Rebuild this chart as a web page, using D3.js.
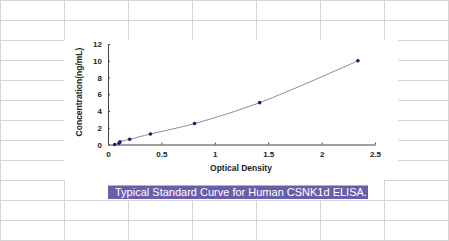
<!DOCTYPE html>
<html><head><meta charset="utf-8">
<script src="https://cdn.jsdelivr.net/npm/d3@7"></script>
<style>html,body{margin:0;padding:0;background:#fff;}svg{display:block;}</style>
</head><body>
<svg id="c" width="449" height="241"></svg>
<script>
const odValues = [0.063, 0.103, 0.112, 0.203, 0.397, 0.81, 1.42, 2.34];
const concValues = [0, 0.156, 0.312, 0.625, 1.25, 2.5, 5, 10];
const xTicks = [0, 0.5, 1, 1.5, 2, 2.5];
const yTicks = [0, 2, 4, 6, 8, 10, 12];
const xTitle = "Optical Density";
const yTitle = "Concentration(ng/mL)";
const caption = "Typical Standard Curve for Human CSNK1d ELISA.";

const svg = d3.select("#c");
const W = 449, H = 241;
const gridColor = "#d6d6d6";

// spreadsheet background grid
const g0 = svg.append("g");
const vx = [0.5, 64.5, 128.5, 192.5, 256.5, 320.5, 384.5, 448.5];
const hy = d3.range(0, 13).map(i => i * 20 + 0.5);
vx.forEach(x => g0.append("line").attr("x1", x).attr("x2", x).attr("y1", 0).attr("y2", H).attr("stroke", gridColor));
hy.forEach(y => g0.append("line").attr("x1", 0).attr("x2", W).attr("y1", y).attr("y2", y).attr("stroke", gridColor));
// white chart area
g0.append("rect").attr("x", 64).attr("y", 40).attr("width", 334).attr("height", 140).attr("fill", "#fff");
g0.append("rect").attr("x", 65).attr("y", 180).attr("width", 319).attr("height", 20).attr("fill", "#fff");

const x = d3.scaleLinear().domain([0, 2.5]).range([108, 375]);
const y = d3.scaleLinear().domain([0, 12]).range([144.5, 44]);

const axisColor = "#444";
const xAxis = svg.append("g").attr("transform", "translate(0,144.5)")
  .call(d3.axisBottom(x).tickValues(xTicks).tickSizeInner(-2).tickSizeOuter(0).tickPadding(7).tickFormat(d3.format("")));
const yAxis = svg.append("g").attr("transform", "translate(108,0)")
  .call(d3.axisLeft(y).tickValues(yTicks).tickSizeInner(-2).tickSizeOuter(0).tickPadding(6));
[xAxis, yAxis].forEach(a => {
  a.select(".domain").attr("stroke", axisColor);
  a.selectAll(".tick line").attr("stroke", axisColor);
  a.selectAll("text").attr("fill", "#222").style("font-family", "Liberation Sans, Arial, sans-serif")
    .style("font-size", "8px").style("font-weight", "bold");
});

svg.append("text").attr("x", 241).attr("y", 171).attr("text-anchor", "middle")
  .style("font-family", "Liberation Sans, Arial, sans-serif").style("font-size", "8.5px").style("font-weight", "bold")
  .attr("fill", "#222").text(xTitle);
svg.append("text").attr("transform", "translate(82,92) rotate(-90)").attr("text-anchor", "middle")
  .style("font-family", "Liberation Sans, Arial, sans-serif").style("font-size", "8.5px").style("font-weight", "bold")
  .attr("fill", "#222").text(yTitle);

const pts = odValues.map((d, i) => [d, concValues[i]]);
const line = d3.line().x(d => x(d[0])).y(d => y(d[1])).curve(d3.curveCatmullRom);
svg.append("path").attr("d", line(pts)).attr("fill", "none").attr("stroke", "#8a8aa8").attr("stroke-width", 1);
svg.selectAll("circle.p").data(pts).enter().append("circle")
  .attr("cx", d => x(d[0])).attr("cy", d => y(d[1])).attr("r", 1.8).attr("fill", "#1c1c6a");

// caption box
svg.append("rect").attr("x", 108).attr("y", 185.5).attr("width", 260).attr("height", 13.5).attr("fill", "#6a5eab");
svg.append("text").attr("x", 115).attr("y", 196).attr("fill", "#fff")
  .style("font-family", "Liberation Sans, Arial, sans-serif").style("font-size", "11px").text(caption);
</script>
</body></html>
